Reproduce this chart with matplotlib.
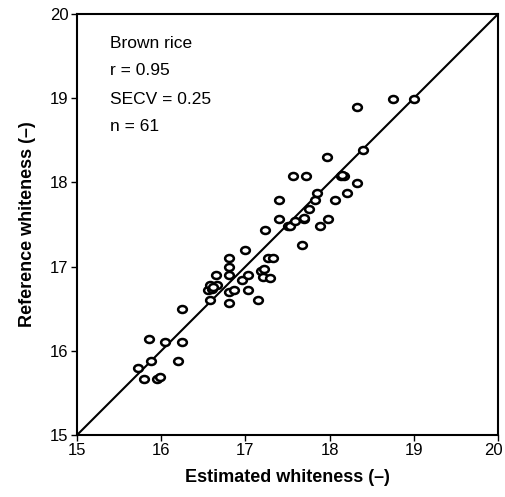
import matplotlib
matplotlib.use("Agg")
import matplotlib.pyplot as plt
import matplotlib.transforms as mtransforms
from matplotlib.path import Path
import numpy as np

plt.rcParams['font.family'] = ['Liberation Sans', 'DejaVu Sans']

estimated = [15.72, 15.79, 15.95, 15.99, 15.88, 15.86, 16.05, 16.20, 16.25, 16.25,
             16.58, 16.55, 16.60, 16.58, 16.66, 16.65, 16.80, 16.80, 16.80, 16.80,
             16.80, 16.87, 16.96, 17.03, 17.03, 17.00, 17.15, 17.19, 17.21, 17.29,
             17.27, 17.33, 17.23, 17.40, 17.40, 17.50, 17.53, 17.59, 17.69, 17.67,
             17.56, 17.72, 17.75, 17.83, 17.85, 17.89, 17.98, 18.06, 17.97, 18.14,
             18.17, 18.21, 18.32, 18.40, 18.33, 18.75, 19.00,
             16.62, 17.22, 17.70, 18.15]
reference = [15.80, 15.67, 15.67, 15.69, 15.88, 16.14, 16.10, 15.88, 16.10, 16.50,
             16.60, 16.72, 16.73, 16.78, 16.78, 16.90, 17.10, 17.00, 16.90, 16.70,
             16.57, 16.72, 16.84, 16.90, 16.72, 17.20, 16.60, 16.95, 16.88, 16.86,
             17.10, 17.10, 17.43, 17.57, 17.79, 17.48, 17.48, 17.54, 17.57, 17.26,
             18.08, 18.08, 17.69, 17.79, 17.87, 17.48, 17.57, 17.79, 18.30, 18.08,
             18.08, 17.88, 17.99, 18.38, 18.90, 18.99, 18.99,
             16.76, 16.97, 17.58, 18.09]
ticks = [15, 16, 17, 18, 19, 20]
annotations = ["Brown rice", "r = 0.95", "SECV = 0.25", "n = 61"]

circ = Path.unit_circle()
ellipse = Path(circ.vertices * np.array([1.0, 0.8]), circ.codes)

fig = plt.figure(figsize=(5.05, 4.97), dpi=100)
ax = fig.add_axes([0.1525, 0.1247, 0.8337, 0.8471])
ax.plot([15, 20], [15, 20], color='black', lw=1.5, zorder=2)
ax.plot(estimated, reference, linestyle='none', marker=ellipse, markersize=6.3,
        markerfacecolor='white', markeredgecolor='black', markeredgewidth=1.8, zorder=3)
ax.set_xlim(15, 20)
ax.set_ylim(15, 20)
ax.set_xticks(ticks)
ax.set_yticks(ticks)
ax.set_xticklabels([str(t) for t in ticks])
ax.set_yticklabels([str(t) for t in ticks])
ax.tick_params(direction='out', length=4, width=1, labelsize=12, pad=2)
last = ax.get_xticklabels()[-1]
last.set_transform(last.get_transform() +
                   mtransforms.ScaledTranslation(-5 / 100, 0, fig.dpi_scale_trans))
for s in ax.spines.values():
    s.set_linewidth(1.5)
ax.set_xlabel("Estimated whiteness (–)", fontsize=13, fontweight='bold', labelpad=8)
ax.set_ylabel("Reference whiteness (–)", fontsize=13, fontweight='bold', labelpad=10)

ys = [0.931, 0.865, 0.798, 0.732]
for t, y in zip(annotations, ys):
    ax.text(0.078, y, t, transform=ax.transAxes, fontsize=12.5, va='center', ha='left')

fig.savefig("out.png", dpi=100)
